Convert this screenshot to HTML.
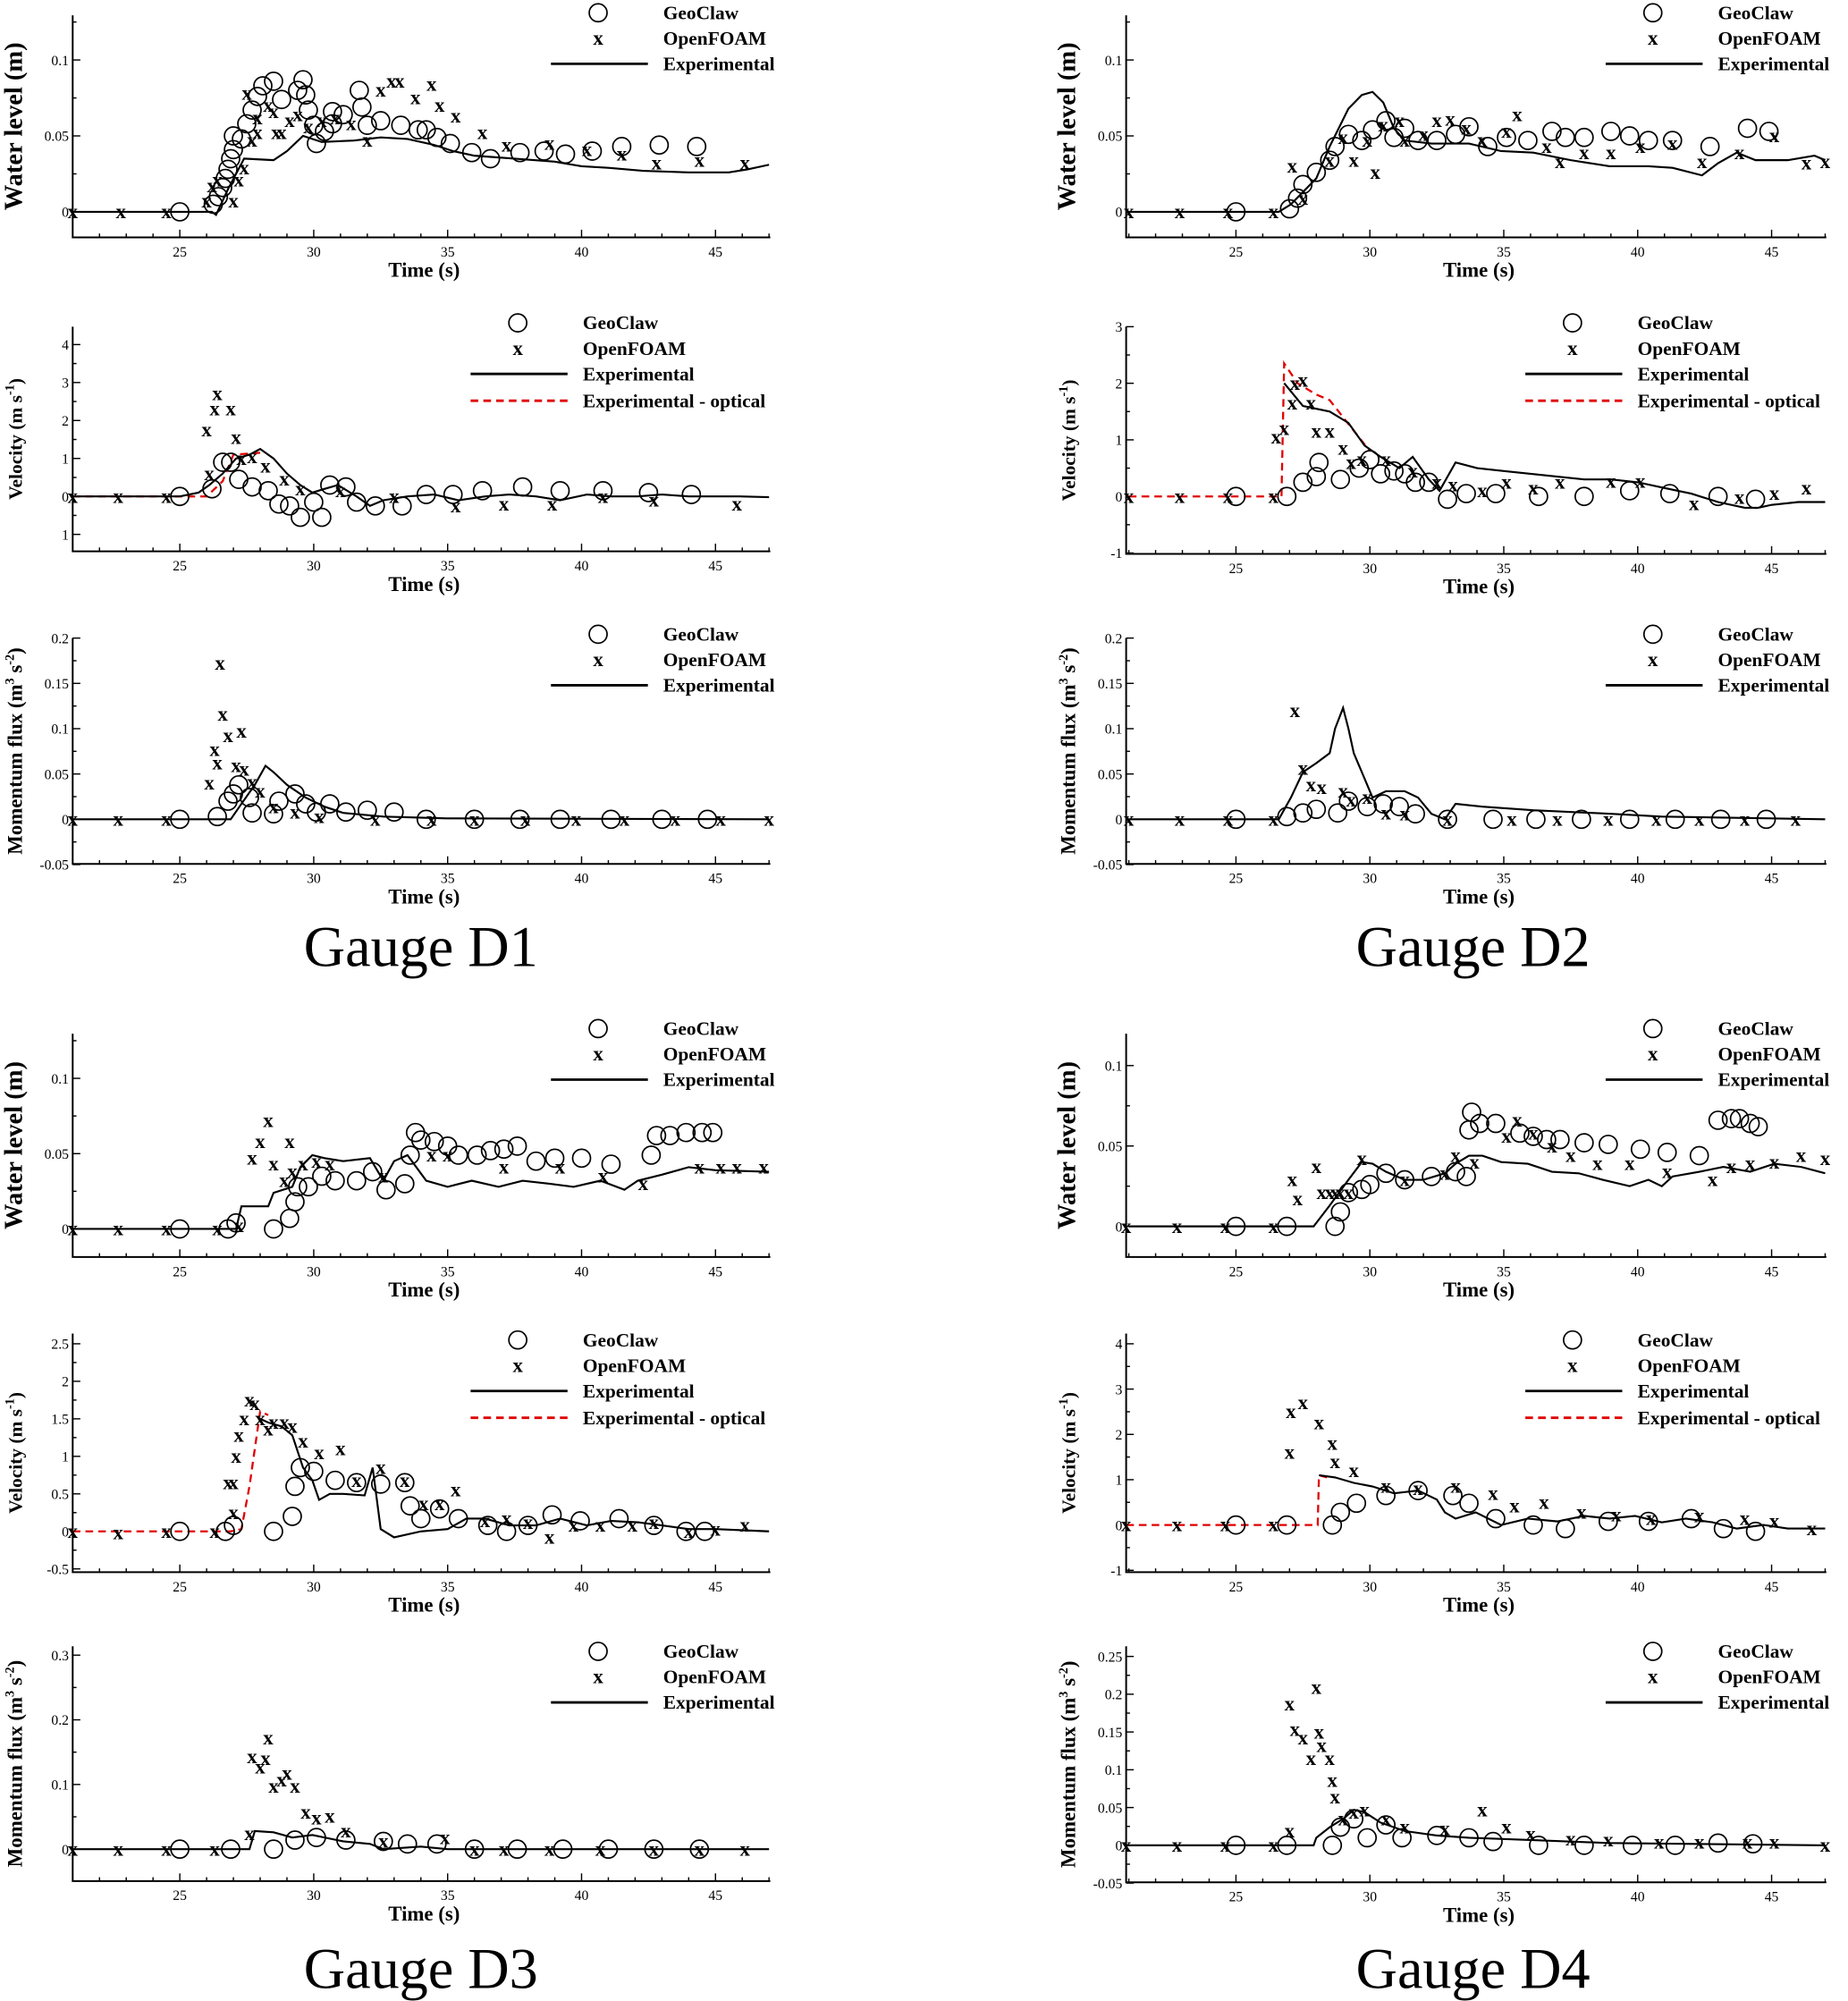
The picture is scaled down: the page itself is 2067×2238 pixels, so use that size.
<!DOCTYPE html>
<html><head><meta charset="utf-8">
<style>
html,body{margin:0;padding:0;background:#fff;}
svg{display:block;}
text{font-family:"Liberation Serif",serif;}
</style></head>
<body>
<svg id="fig" xmlns="http://www.w3.org/2000/svg" width="2067" height="2238" viewBox="0 0 1449 1568" preserveAspectRatio="none"></svg>
<script>
// ---------- DATA (time s, value) ----------
const d1wExp=[[21,0],[26.2,0],[26.35,-0.002],[26.8,0.015],[27.4,0.035],[28.5,0.034],[29,0.04],[29.6,0.05],[30.3,0.046],[31.5,0.047],[32.5,0.049],[33.5,0.048],[34.5,0.044],[35.2,0.04],[36,0.037],[37.5,0.035],[39,0.033],[40,0.03],[41,0.029],[42.3,0.027],[44,0.026],[45.5,0.026],[46.2,0.028],[47,0.031]];
const d1wGeo=[[25,0],[26.25,0.005],[26.44,0.01],[26.6,0.016],[26.7,0.022],[26.8,0.028],[26.9,0.035],[27,0.041],[27,0.05],[27.3,0.048],[27.5,0.058],[27.7,0.067],[27.9,0.076],[28.1,0.083],[28.5,0.086],[28.8,0.074],[29.4,0.08],[29.6,0.087],[29.7,0.077],[29.8,0.067],[30,0.057],[30.1,0.045],[30.4,0.053],[30.7,0.058],[30.7,0.066],[31.1,0.064],[31.7,0.08],[31.8,0.069],[32,0.057],[32.5,0.06],[33.25,0.057],[33.9,0.054],[34.2,0.054],[34.6,0.049],[35.1,0.045],[35.9,0.039],[36.6,0.035],[37.7,0.039],[38.6,0.04],[39.4,0.038],[40.4,0.04],[41.5,0.043],[42.9,0.044],[44.3,0.043]];
const d1wOf=[[21,0],[22.8,0],[24.5,0],[26,0.007],[26.2,0.017],[26.4,0.021],[27,0.007],[27.2,0.021],[27.4,0.029],[27.5,0.078],[27.7,0.047],[27.9,0.052],[27.9,0.062],[28.3,0.07],[28.5,0.066],[28.6,0.052],[28.8,0.052],[29.1,0.06],[29.4,0.064],[29.8,0.056],[30.3,0.06],[30.8,0.062],[31.4,0.058],[32,0.047],[32.5,0.08],[32.9,0.086],[33.2,0.086],[33.8,0.075],[34.4,0.084],[34.7,0.07],[35.3,0.063],[36.3,0.052],[37.2,0.044],[38.8,0.045],[40.2,0.041],[41.5,0.038],[42.8,0.032],[44.4,0.034],[46.1,0.032]];

const d2wExp=[[21,0],[26.6,0],[27.05,0.005],[28,0.022],[28.5,0.043],[29.2,0.068],[29.7,0.077],[30.1,0.079],[30.5,0.072],[30.9,0.055],[31.3,0.047],[32.3,0.045],[33.7,0.045],[34.9,0.04],[36.1,0.039],[37.5,0.034],[38.95,0.03],[40.4,0.03],[41.3,0.029],[42.4,0.024],[43,0.032],[43.7,0.039],[44.4,0.034],[45.6,0.034],[46.6,0.037],[47,0.034]];
const d2wGeo=[[25,0],[27,0.002],[27.3,0.009],[27.5,0.018],[28,0.026],[28.5,0.034],[28.7,0.043],[29.2,0.051],[29.7,0.047],[30.1,0.054],[30.6,0.06],[30.9,0.049],[31.3,0.055],[31.8,0.047],[32.5,0.047],[33.2,0.051],[33.7,0.056],[34.4,0.043],[35.1,0.049],[35.9,0.047],[36.8,0.053],[37.3,0.049],[38,0.049],[39,0.053],[39.7,0.05],[40.4,0.047],[41.3,0.047],[42.7,0.043],[44.1,0.055],[44.9,0.053]];
const d2wOf=[[21,0],[22.9,0],[24.7,0],[26.4,0],[27.1,0.03],[27.5,0.009],[28.5,0.034],[29,0.049],[29.4,0.034],[29.9,0.047],[30.2,0.026],[30.5,0.057],[31.1,0.06],[31.3,0.047],[32,0.051],[32.5,0.06],[33,0.061],[33.6,0.055],[34.2,0.047],[35.1,0.053],[35.5,0.064],[36.6,0.043],[37.1,0.033],[38,0.039],[39,0.039],[40.1,0.043],[41.3,0.045],[42.4,0.033],[43.8,0.039],[45.1,0.05],[46.3,0.032],[47,0.033]];

const d1vExp=[[21,0],[25,0],[25.7,0.1],[26.1,0.3],[26.6,0.6],[27.1,1.0],[27.6,1.1],[28,1.25],[28.5,1.0],[29,0.6],[29.5,0.3],[29.95,0.1],[30.4,0.2],[30.9,0.3],[31.6,0],[32.1,-0.25],[32.6,-0.1],[33.5,0],[34.5,0.05],[35.4,-0.1],[36.4,0],[37.3,0.05],[38.3,0],[39.2,-0.1],[40.2,0.05],[41.1,0],[42.1,0],[43,0.05],[44,0],[45.9,0],[47,-0.02]];
const d1vOpt=[[21,0],[26,0],[26.6,0.4],[27,1.1],[28,1.15]];
const d1vGeo=[[25,0],[26.2,0.2],[26.6,0.9],[26.9,0.9],[27.2,0.45],[27.7,0.25],[28.3,0.15],[28.7,-0.2],[29.1,-0.25],[29.5,-0.55],[30,-0.15],[30.3,-0.55],[30.6,0.3],[31.2,0.25],[31.6,-0.15],[32.3,-0.25],[33.3,-0.25],[34.2,0.05],[35.2,0.05],[36.3,0.15],[37.8,0.25],[39.2,0.15],[40.8,0.15],[42.5,0.1],[44.1,0.05]];
const d1vOf=[[21,0],[22.7,0],[24.5,0],[26,1.75],[26.4,2.7],[26.3,2.3],[26.9,2.3],[26.1,0.6],[27.1,1.55],[27.3,1],[27.7,1.05],[28.2,0.8],[28.9,0.45],[29.5,0.2],[31,0.15],[33,0],[35.3,-0.25],[37.1,-0.2],[38.9,-0.2],[40.8,0],[42.7,-0.1],[45.8,-0.2]];

const d2vExp=[[26.8,2.0],[27.5,1.6],[28,1.55],[28.5,1.5],[29.2,1.3],[29.8,0.9],[30.4,0.7],[31.1,0.5],[31.6,0.7],[32.2,0.3],[32.6,0.1],[33.2,0.6],[34,0.5],[35,0.45],[36,0.4],[37,0.35],[38,0.3],[39,0.3],[40,0.25],[41,0.15],[42,0.05],[43,-0.1],[44,-0.2],[44.5,-0.2],[45,-0.15],[46,-0.1],[47,-0.1]];
const d2vOpt=[[21,0],[26.7,0],[26.8,2.35],[27.3,2.0],[28,1.8],[28.5,1.7],[29,1.4],[29.5,1.1],[30,0.8]];
const d2vGeo=[[25,0],[26.9,0],[27.5,0.25],[28,0.35],[28.1,0.6],[28.9,0.3],[29.6,0.5],[30,0.65],[30.4,0.4],[30.9,0.45],[31.3,0.4],[31.7,0.25],[32.2,0.25],[32.9,-0.05],[33.6,0.05],[34.7,0.05],[36.3,0],[38,0],[39.7,0.1],[41.2,0.05],[43,0],[44.4,-0.05]];
const d2vOf=[[21,0],[22.9,0],[24.7,0],[26.4,0],[26.5,1.05],[26.8,1.2],[27.1,1.65],[27.2,2.0],[27.5,2.05],[27.8,1.65],[28,1.15],[28.5,1.15],[29,0.85],[29.3,0.6],[29.7,0.65],[30.6,0.65],[31.6,0.45],[32.5,0.25],[33.1,0.2],[34.2,0.1],[35.1,0.25],[36.1,0.15],[37.1,0.25],[39,0.27],[40.1,0.27],[42.1,-0.13],[43.8,-0.02],[45.1,0.05],[46.3,0.15]];

const d1mExp=[[21,0],[26.9,0],[27.3,0.017],[27.8,0.038],[28.2,0.059],[28.5,0.052],[29,0.038],[29.7,0.024],[30.4,0.014],[31.1,0.007],[32.6,0.003],[34.95,0.001],[47,0]];
const d1mGeo=[[25,0],[26.4,0.003],[26.8,0.02],[27,0.028],[27.2,0.038],[27.6,0.024],[27.7,0.007],[28.5,0.006],[28.7,0.02],[29.3,0.028],[29.7,0.017],[30.1,0.008],[30.6,0.017],[31.2,0.008],[32,0.01],[33,0.008],[34.2,0],[36,0],[37.7,0],[39.2,0],[41.1,0],[43,0],[44.7,0]];
const d1mOf=[[21,0],[22.7,0],[24.5,0],[26.1,0.04],[26.3,0.077],[26.5,0.172],[26.6,0.116],[26.8,0.092],[26.4,0.062],[27.1,0.059],[27.3,0.097],[27.4,0.055],[27.7,0.041],[28,0.031],[28.5,0.014],[29.3,0.008],[30.2,0.003],[32.3,0],[34.4,0],[36,0],[37.9,0],[39.8,0],[41.6,0],[43.5,0],[45.2,0],[47,0]];

const d2mExp=[[21,0],[26.6,0],[27.05,0.024],[27.5,0.052],[28,0.062],[28.5,0.073],[28.7,0.1],[29,0.123],[29.2,0.1],[29.4,0.073],[29.8,0.045],[30.1,0.024],[30.6,0.031],[31.3,0.031],[31.8,0.024],[32.3,0.006],[32.8,0],[33.2,0.017],[34.2,0.014],[36.1,0.01],[39,0.006],[40.9,0.003],[47,0]];
const d2mGeo=[[25,0],[26.9,0.003],[27.5,0.007],[28,0.011],[28.8,0.007],[29.2,0.02],[29.9,0.014],[30.5,0.017],[31.1,0.014],[31.7,0.006],[32.9,0],[34.6,0],[36.2,0],[37.9,0],[39.7,0],[41.4,0],[43.1,0],[44.8,0]];
const d2mOf=[[21,0],[22.9,0],[24.7,0],[26.4,0],[27.2,0.12],[27.5,0.056],[27.8,0.038],[28.2,0.035],[29,0.031],[29.3,0.021],[29.9,0.024],[30.6,0.007],[31.3,0.006],[32.9,0],[35.3,0],[37,0],[38.9,0],[40.7,0],[42.3,0],[44,0],[45.9,0]];

const d3wExp=[[21,0],[27.1,0],[27.3,0.015],[28.3,0.015],[28.5,0.024],[29.2,0.028],[29.5,0.041],[29.95,0.049],[30.4,0.047],[31.1,0.045],[32.1,0.047],[32.6,0.032],[33,0.045],[33.5,0.049],[34.2,0.032],[35,0.028],[35.9,0.032],[36.9,0.028],[37.8,0.032],[38.8,0.03],[39.7,0.028],[40.7,0.032],[41.6,0.026],[42.1,0.032],[43,0.036],[44,0.041],[45,0.039],[47,0.038]];
const d3wGeo=[[25,0],[26.8,0],[27.1,0.004],[28.5,0],[29.1,0.007],[29.3,0.018],[29.4,0.028],[29.8,0.028],[30.3,0.035],[30.8,0.032],[31.6,0.032],[32.2,0.038],[32.7,0.026],[33.4,0.03],[33.6,0.049],[33.8,0.064],[34,0.059],[34.5,0.058],[35,0.055],[35.4,0.049],[36.1,0.049],[36.6,0.052],[37.1,0.053],[37.6,0.055],[38.3,0.045],[39,0.047],[40,0.047],[41.1,0.043],[42.6,0.049],[42.8,0.062],[43.3,0.062],[43.9,0.064],[44.5,0.064],[44.9,0.064]];
const d3wOf=[[21,0],[22.7,0],[24.5,0],[26.4,0],[27.2,0.002],[27.7,0.047],[28,0.058],[28.3,0.072],[28.5,0.043],[28.9,0.032],[29.1,0.058],[29.2,0.038],[29.6,0.043],[30.1,0.045],[30.6,0.043],[32.6,0.035],[34.4,0.049],[35,0.049],[37.1,0.041],[39.2,0.041],[40.8,0.035],[42.3,0.03],[44.4,0.041],[45.2,0.041],[45.8,0.041],[46.8,0.041]];

const d3vExp=[[28,1.5],[28.3,1.45],[28.8,1.4],[29.2,1.28],[29.6,0.85],[29.95,0.68],[30.2,0.42],[30.6,0.5],[31.1,0.5],[31.9,0.48],[32.2,0.85],[32.5,0.03],[33,-0.08],[34,0],[35,0.03],[35.7,0.17],[36.4,0.17],[37.3,0.08],[38.3,0.08],[39.2,0.17],[40.2,0.08],[41.1,0.14],[42.1,0.12],[43,0.08],[44,0.03],[45,0.03],[47,0]];
const d3vOpt=[[21,0],[26.9,0],[27.3,0.03],[27.6,0.6],[28,1.6],[28.3,1.55]];
const d3vGeo=[[25,0],[26.7,0],[27,0.08],[28.5,0],[29.2,0.2],[29.3,0.6],[29.5,0.85],[30,0.8],[30.8,0.68],[31.6,0.65],[32.5,0.63],[33.4,0.65],[33.6,0.34],[34,0.17],[34.7,0.3],[35.4,0.17],[36.5,0.08],[37.2,0],[38,0.08],[38.9,0.22],[39.95,0.14],[41.4,0.17],[42.7,0.08],[43.9,0],[44.6,0]];
const d3vOf=[[21,0],[22.7,-0.02],[24.5,0],[26.3,0],[26.8,0.65],[27,0.65],[27,0.25],[27.1,1.0],[27.2,1.28],[27.4,1.5],[27.6,1.75],[27.8,1.7],[28,1.5],[28.3,1.36],[28.5,1.45],[28.9,1.45],[29.2,1.4],[29.6,1.2],[30.2,1.05],[31,1.1],[31.6,0.68],[32.5,0.85],[33.4,0.68],[34.1,0.37],[34.7,0.37],[35.3,0.55],[36.4,0.14],[37.2,0.17],[38,0.12],[38.8,-0.08],[39.7,0.08],[40.7,0.08],[41.9,0.08],[42.7,0.12],[44,0],[45,0.03],[46.1,0.08]];

const d3mExp=[[21,0],[27.6,0],[27.8,0.028],[28.5,0.026],[29.2,0.018],[29.95,0.022],[31.1,0.012],[32.1,0.008],[32.6,0],[34,0.004],[35,0],[47,0]];
const d3mGeo=[[25,0],[26.9,0],[28.5,0],[29.3,0.014],[30.1,0.018],[31.2,0.014],[32.6,0.012],[33.5,0.008],[34.6,0.008],[36,0],[37.6,0],[39.3,0],[41,0],[42.7,0],[44.4,0]];
const d3mOf=[[21,0],[22.7,0],[24.5,0],[26.3,0],[27.6,0.024],[27.7,0.143],[28,0.127],[28.3,0.172],[28.2,0.14],[28.5,0.097],[28.8,0.107],[29,0.117],[29.3,0.097],[29.7,0.057],[30.1,0.048],[30.6,0.051],[31.2,0.028],[32.6,0.012],[34.9,0.018],[36,0],[37.1,0],[38.8,0],[40.7,0],[42.7,0],[44.4,0],[46.1,0]];

const d4wExp=[[21,0],[27.9,0],[28.5,0.013],[29.2,0.029],[29.7,0.04],[30.1,0.039],[30.6,0.034],[31.3,0.029],[32,0.029],[32.8,0.033],[33.2,0.039],[33.7,0.044],[34.2,0.044],[34.9,0.04],[35.9,0.039],[36.8,0.034],[37.8,0.033],[38.7,0.029],[39.7,0.025],[40.4,0.029],[40.9,0.025],[41.3,0.031],[42.3,0.034],[43.2,0.037],[44.2,0.034],[45.1,0.039],[46.1,0.037],[47,0.033]];
const d4wGeo=[[25,0],[26.9,0],[28.7,0],[28.9,0.009],[29.2,0.021],[29.7,0.023],[30,0.026],[30.6,0.033],[31.3,0.029],[32.3,0.031],[33.2,0.034],[33.6,0.031],[33.7,0.06],[33.8,0.071],[34.1,0.064],[34.7,0.064],[35.6,0.058],[36.1,0.056],[36.6,0.054],[37.1,0.054],[38,0.052],[38.9,0.051],[40.1,0.048],[41.1,0.046],[42.3,0.044],[43,0.066],[43.5,0.067],[43.8,0.067],[44.2,0.064],[44.5,0.062]];
const d4wOf=[[20.9,0],[22.8,0],[24.6,0],[26.4,0],[27.1,0.029],[27.3,0.017],[28,0.037],[28.2,0.021],[28.5,0.021],[28.7,0.021],[28.9,0.021],[29.2,0.021],[29.7,0.042],[31.3,0.029],[32.8,0.033],[33.2,0.044],[33.9,0.04],[35.1,0.056],[35.5,0.066],[36.1,0.058],[36.8,0.05],[37.5,0.044],[38.5,0.039],[39.7,0.039],[41.1,0.034],[42.8,0.029],[43.5,0.037],[44.2,0.039],[45.1,0.04],[46.1,0.044],[47,0.042]];

const d4vExp=[[28.1,1.1],[28.7,1.05],[29.4,0.93],[30.1,0.85],[30.9,0.7],[31.8,0.76],[32.5,0.56],[32.8,0.28],[33.2,0.14],[33.95,0.28],[34.9,0],[35.9,0.14],[37,0.08],[38,0.2],[38.95,0.14],[39.9,0.2],[40.9,0.06],[41.8,0.14],[42.8,0.06],[43.7,-0.08],[44.7,0],[45.6,-0.08],[47,-0.08]];
const d4vOpt=[[20.9,0],[28.05,0],[28.1,1.1],[28.4,1.05]];
const d4vGeo=[[25,0],[26.9,0],[28.6,0],[28.9,0.28],[29.5,0.48],[30.6,0.65],[31.8,0.76],[33.1,0.65],[33.7,0.48],[34.7,0.14],[36.1,0],[37.3,-0.08],[38.9,0.08],[40.4,0.08],[42,0.14],[43.2,-0.08],[44.4,-0.14]];
const d4vOf=[[20.9,0],[22.8,0],[24.6,0],[26.4,0],[27,1.6],[27.05,2.5],[27.5,2.7],[28.1,2.25],[28.6,1.8],[28.7,1.4],[29.4,1.2],[30.6,0.85],[31.8,0.8],[33.2,0.85],[34.6,0.7],[35.4,0.42],[36.5,0.5],[37.9,0.28],[39.2,0.22],[40.5,0.14],[42.3,0.2],[44,0.14],[45.1,0.08],[46.5,-0.08]];

const d4mExp=[[20.9,0],[27.9,0],[28,0.01],[28.5,0.024],[29,0.035],[29.4,0.047],[29.8,0.044],[30.4,0.03],[31.3,0.019],[32.5,0.013],[33.7,0.01],[36.1,0.007],[38.9,0.003],[47,0]];
const d4mGeo=[[25,0],[26.9,0],[28.6,0],[28.9,0.024],[29.4,0.035],[29.9,0.01],[30.6,0.027],[31.2,0.01],[32.5,0.013],[33.7,0.01],[34.6,0.005],[36.3,0],[38,0],[39.8,0],[41.4,0],[43,0.003],[44.3,0.002]];
const d4mOf=[[20.9,0],[22.8,0],[24.6,0],[26.4,0],[27,0.019],[27,0.187],[27.2,0.153],[27.5,0.142],[27.8,0.115],[28,0.209],[28.1,0.15],[28.2,0.132],[28.5,0.115],[28.6,0.086],[28.7,0.064],[29,0.035],[29.4,0.044],[29.8,0.047],[30.6,0.035],[31.3,0.024],[32.8,0.022],[34.2,0.047],[35.1,0.024],[36,0.015],[37.5,0.008],[38.9,0.007],[40.8,0.004],[42.3,0.004],[44.1,0.004],[45.1,0.004],[47,0]];

const xTicks=[25,30,35,40,45];
const waterTicks=[0,0.05,0.1];
const waterLabels=["0","0.05","0.1"];
const d1vTicks=[-1,0,1,2,3,4];
const d1vLabels=["1","0","1","2","3","4"];
const d2vTicks=[-1,0,1,2,3];
const d2vLabels=["-1","0","1","2","3"];
const momTicks=[-0.05,0,0.05,0.1,0.15,0.2];
const momLabels=["-0.05","0","0.05","0.1","0.15","0.2"];
const d3vTicks=[-0.5,0,0.5,1,1.5,2,2.5];
const d3vLabels=["-0.5","0","0.5","1","1.5","2","2.5"];
const d3mTicks=[0,0.1,0.2,0.3];
const d3mLabels=["0","0.1","0.2","0.3"];
const d4vTicks=[-1,0,1,2,3,4];
const d4vLabels=["-1","0","1","2","3","4"];
const d4mTicks=[-0.05,0,0.05,0.1,0.15,0.2,0.25];
const d4mLabels=["-0.05","0","0.05","0.1","0.15","0.2","0.25"];

// ---------- DRAWING ----------
const NS="http://www.w3.org/2000/svg";
const svg=document.getElementById('fig');
function mk(tag,attrs,parent){const e=document.createElementNS(NS,tag);for(const k in attrs)e.setAttribute(k,attrs[k]);(parent||svg).appendChild(e);return e;}

function panel(p){
  const g=mk('g',{});
  
  
  const sx=t=>p.x0+(t-p.tmin)*21;
  const sy=v=>p.py0+(v)*(p.py1-p.py0)/p.v1;
  const ax=mk('path',{d:`M${p.x0},${p.top} L${p.x0},${p.bot} L${p.x1},${p.bot}`,stroke:'#000','stroke-width':1.4,fill:'none'},g);
  
  
  for(let t=Math.ceil(p.tmin);t<=p.tmax;t++){
    const major=t%5===0;
    mk('line',{x1:sx(t),x2:sx(t),y1:p.bot,y2:p.bot-(major?6:3),stroke:'#000','stroke-width':1},g);
  }
  xTicks.forEach(t=>{
    const tx=mk('text',{x:sx(t),y:p.bot+15,'font-size':11,'text-anchor':'middle'},g);
    tx.textContent=String(t);
    
    
  });
  const step=p.ticks[1]-p.ticks[0];
  p.ticks.forEach((v,i)=>{
    const y=sy(v);
    mk('line',{x1:p.x0,x2:p.x0+6,y1:y,y2:y,stroke:'#000','stroke-width':1},g);
    const ym=sy(v+step/2);
    if(ym>p.top) mk('line',{x1:p.x0,x2:p.x0+3,y1:ym,y2:ym,stroke:'#000','stroke-width':1},g);
    const tl=mk('text',{x:p.x0-3,y:y+4,'font-size':11,'text-anchor':'end'},g);
    tl.textContent=p.labels[i];
    
    
  });
  const xt=mk('text',{x:(p.x0+p.x1)/2+2,y:p.bot+31,'font-size':16,'font-weight':'bold','text-anchor':'middle'},g);
  xt.textContent='Time (s)';
  
  
  const cy=(p.top+p.bot)/2;
  const yt=mk('text',{x:0,y:0,'font-size':p.yfs,'font-weight':'bold','text-anchor':'middle',transform:`translate(${p.x0-40},${cy}) rotate(-90)`},g);
  yt.innerHTML=p.ytitle;
  
  
  const line=(data,color,dash,nm)=>{
    const d=data.map((q,i)=>(i?'L':'M')+sx(q[0]).toFixed(1)+','+sy(q[1]).toFixed(1)).join(' ');
    const pl=mk('path',{d:d,stroke:color,'stroke-width':color==='#000'?1.5:1.6,fill:'none','stroke-dasharray':dash||'none'},g);
    
    
  };
  if(p.opt) line(p.opt,'#e00000','6,4','experimental-optical-line');
  line(p.exp,'#000',null,'experimental-line');
  p.geo.forEach(q=>{
    const c=mk('circle',{cx:sx(q[0]),cy:sy(q[1]),r:7,fill:'none',stroke:'#000','stroke-width':1.2},g);
    
    
  });
  p.of.forEach(q=>{
    const t=mk('text',{x:sx(q[0]),y:sy(q[1])+5,'font-size':16,'font-weight':'bold','text-anchor':'middle'},g);
    t.textContent='x';
    
    
  });
  const lg=mk('g',{},g);
  
  
  const mx=p.lx, tx=p.lx+51, ly=p.ly;
  mk('circle',{cx:mx,cy:ly,r:7,fill:'none',stroke:'#000','stroke-width':1.2},lg);
  const e1=mk('text',{x:tx,y:ly+5,'font-size':15,'font-weight':'bold'},lg);e1.textContent='GeoClaw';
  
  
  const xm=mk('text',{x:mx,y:ly+25,'font-size':16,'font-weight':'bold','text-anchor':'middle'},lg);xm.textContent='x';
  const e2=mk('text',{x:tx,y:ly+25,'font-size':15,'font-weight':'bold'},lg);e2.textContent='OpenFOAM';
  
  
  mk('line',{x1:mx-37,x2:mx+39,y1:ly+40,y2:ly+40,stroke:'#000','stroke-width':2},lg);
  const e3=mk('text',{x:tx,y:ly+45,'font-size':15,'font-weight':'bold'},lg);e3.textContent='Experimental';
  
  
  if(p.opt){
    mk('line',{x1:mx-37,x2:mx+39,y1:ly+61,y2:ly+61,stroke:'#e00000','stroke-width':2,'stroke-dasharray':'6,4'},lg);
    const e4=mk('text',{x:tx,y:ly+66,'font-size':15,'font-weight':'bold'},lg);e4.textContent='Experimental - optical';
    
    
  }
}

const L={x0:57,x1:604,tmin:21,tmax:47.05};
const R={x0:883,x1:1432,tmin:20.9,tmax:47.04};
const WT='Water level  (m)';
const VT='Velocity (m s<tspan dy="-6" font-size="10">-1</tspan><tspan dy="6">)</tspan>';
const MT='Momentum flux (m<tspan dy="-6" font-size="10">3</tspan><tspan dy="6"> s</tspan><tspan dy="-6" font-size="10">-2</tspan><tspan dy="6">)</tspan>';
const P=[
 Object.assign({name:'d1-water-level',top:12,bot:186,py0:166,py1:47,v1:0.1,ticks:waterTicks,labels:waterLabels,ytitle:WT,yfs:20,exp:d1wExp,geo:d1wGeo,of:d1wOf,lx:469,ly:10},L),
 Object.assign({name:'d2-water-level',top:12,bot:186,py0:166,py1:47,v1:0.1,ticks:waterTicks,labels:waterLabels,ytitle:WT,yfs:20,exp:d2wExp,geo:d2wGeo,of:d2wOf,lx:1296,ly:10},R),
 Object.assign({name:'d1-velocity',top:256,bot:432,py0:389,py1:270,v1:4,ticks:d1vTicks,labels:d1vLabels,ytitle:VT,yfs:15,exp:d1vExp,opt:d1vOpt,geo:d1vGeo,of:d1vOf,lx:406,ly:253},L),
 Object.assign({name:'d2-velocity',top:256,bot:434,py0:389,py1:256,v1:3,ticks:d2vTicks,labels:d2vLabels,ytitle:VT,yfs:15,exp:d2vExp,opt:d2vOpt,geo:d2vGeo,of:d2vOf,lx:1233,ly:253},R),
 Object.assign({name:'d1-momentum-flux',top:500,bot:677,py0:642,py1:500,v1:0.2,ticks:momTicks,labels:momLabels,ytitle:MT,yfs:16,exp:d1mExp,geo:d1mGeo,of:d1mOf,lx:469,ly:497},L),
 Object.assign({name:'d2-momentum-flux',top:500,bot:677,py0:642,py1:500,v1:0.2,ticks:momTicks,labels:momLabels,ytitle:MT,yfs:16,exp:d2mExp,geo:d2mGeo,of:d2mOf,lx:1296,ly:497},R),
 Object.assign({name:'d3-water-level',top:810,bot:985,py0:963,py1:845,v1:0.1,ticks:waterTicks,labels:waterLabels,ytitle:WT,yfs:20,exp:d3wExp,geo:d3wGeo,of:d3wOf,lx:469,ly:806},L),
 Object.assign({name:'d4-water-level',top:810,bot:985,py0:961,py1:835,v1:0.1,ticks:waterTicks,labels:waterLabels,ytitle:WT,yfs:20,exp:d4wExp,geo:d4wGeo,of:d4wOf,lx:1296,ly:806},R),
 Object.assign({name:'d3-velocity',top:1045,bot:1232,py0:1200,py1:1053,v1:2.5,ticks:d3vTicks,labels:d3vLabels,ytitle:VT,yfs:15,exp:d3vExp,opt:d3vOpt,geo:d3vGeo,of:d3vOf,lx:406,ly:1050},L),
 Object.assign({name:'d4-velocity',top:1045,bot:1232,py0:1195,py1:1053,v1:4,ticks:d4vTicks,labels:d4vLabels,ytitle:VT,yfs:15,exp:d4vExp,opt:d4vOpt,geo:d4vGeo,of:d4vOf,lx:1233,ly:1050},R),
 Object.assign({name:'d3-momentum-flux',top:1290,bot:1474,py0:1449,py1:1297,v1:0.3,ticks:d3mTicks,labels:d3mLabels,ytitle:MT,yfs:16,exp:d3mExp,geo:d3mGeo,of:d3mOf,lx:469,ly:1294},L),
 Object.assign({name:'d4-momentum-flux',top:1290,bot:1475,py0:1446,py1:1298,v1:0.25,ticks:d4mTicks,labels:d4mLabels,ytitle:MT,yfs:16,exp:d4mExp,geo:d4mGeo,of:d4mOf,lx:1296,ly:1294},R)
];
P.forEach(panel);

const titles=[["Gauge D1",330,757],["Gauge D2",1155,757],["Gauge D3",330,1558],["Gauge D4",1155,1558]];
titles.forEach(t=>{
  const e=mk('text',{x:t[1],y:t[2],'font-size':45,'text-anchor':'middle'});
  e.textContent=t[0];
  
  
});
</script>
</body></html>
